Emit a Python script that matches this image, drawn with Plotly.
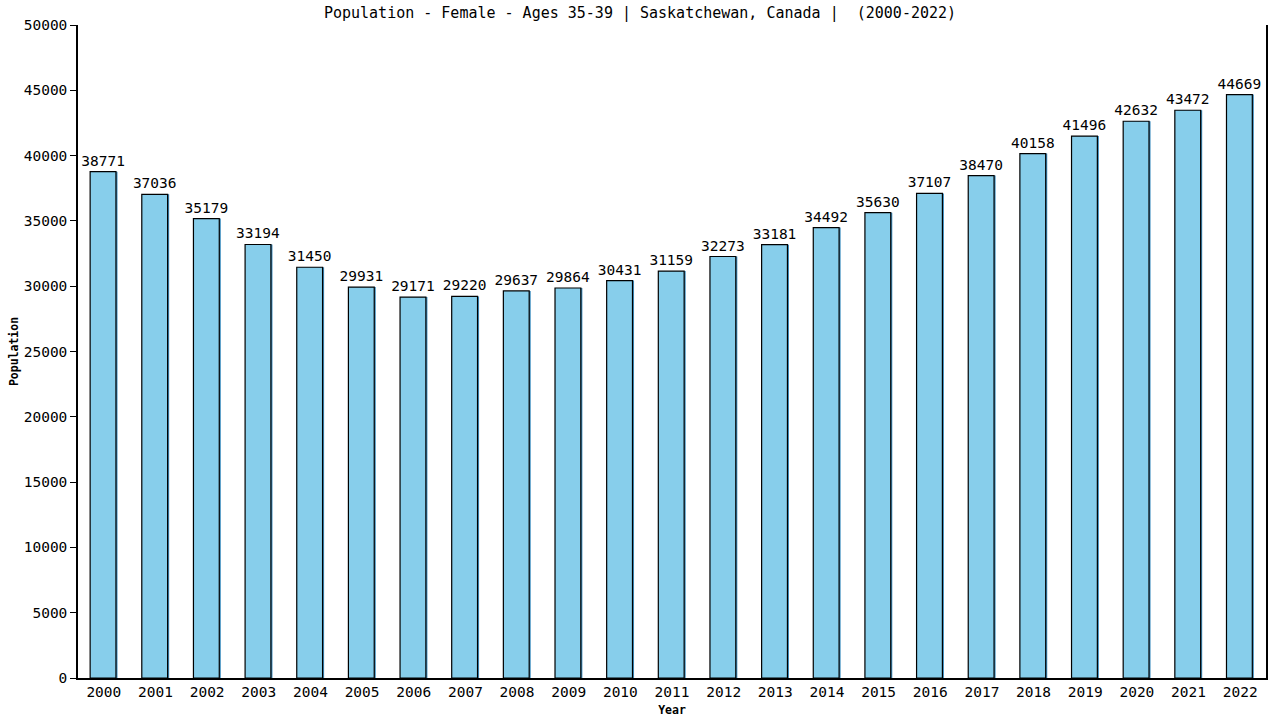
import plotly.graph_objects as go

years = [str(y) for y in range(2000, 2023)]
population = [38771, 37036, 35179, 33194, 31450, 29931, 29171, 29220, 29637, 29864,
              30431, 31159, 32273, 33181, 34492, 35630, 37107, 38470, 40158, 41496,
              42632, 43472, 44669]
y_ticks = list(range(0, 50001, 5000))

FONT = "DejaVu Sans Mono"

fig = go.Figure()
# subtle shadow behind bars
fig.add_trace(go.Bar(
    x=years, y=population, width=0.5, offset=-0.235,
    marker=dict(color="#3f8fc0", line=dict(width=0)),
    hoverinfo="skip", showlegend=False,
))
fig.add_trace(go.Bar(
    x=years, y=population, width=0.5, offset=-0.265,
    marker=dict(color="#87CEEB", line=dict(color="black", width=1.2)),
    text=[str(v) for v in population], textposition="outside",
    constraintext="none",
    textfont=dict(family=FONT, size=14.5, color="black"),
    cliponaxis=False, showlegend=False,
))

fig.update_layout(
    width=1280, height=720,
    barmode="overlay",
    paper_bgcolor="white", plot_bgcolor="white",
    margin=dict(l=78, r=14, t=25, b=42),
    title=dict(text="Population - Female - Ages 35-39 | Saskatchewan, Canada |  (2000-2022)",
               x=0.5, xanchor="center", y=0.982, yanchor="middle",
               font=dict(family=FONT, size=15, color="black")),
    font=dict(family=FONT, color="black"),
)
fig.update_xaxes(
    type="category", range=[-0.5, 22.5], automargin=False,
    showline=True, linecolor="black", linewidth=1.5,
    ticks="", showgrid=False,
    tickfont=dict(family=FONT, size=14.5, color="black"),
    title=dict(text="<b>Year</b>", font=dict(family=FONT, size=11.5, color="black"), standoff=7),
)
fig.update_yaxes(
    range=[0, 50000], tickvals=y_ticks, ticktext=[str(v) for v in y_ticks],
    automargin=False,
    showline=True, linecolor="black", linewidth=1.5, mirror=True,
    ticks="outside", ticklen=6, tickcolor="black",
    showgrid=False, zeroline=False,
    tickfont=dict(family=FONT, size=14.5, color="black"),
    title=dict(text="<b>Population</b>", font=dict(family=FONT, size=11.5, color="black"), standoff=3),
)

fig.write_html("out.html", config={"displayModeBar": False},
               post_script="document.body.style.margin='0';")
